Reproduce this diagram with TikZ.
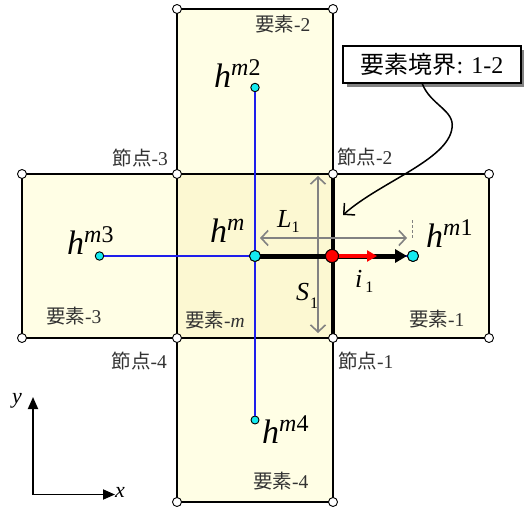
\documentclass[tikz,border=0pt]{standalone}
\usepackage{fontspec}
\setmainfont{Liberation Serif}
\newfontfamily\cjk{Noto Sans CJK JP}
\usetikzlibrary{arrows.meta,shadows}
\definecolor{outerfill}{RGB}{255,254,229}
\definecolor{innerfill}{RGB}{252,248,210}
\definecolor{labelgray}{RGB}{50,50,50}
\definecolor{dimgray}{RGB}{130,130,130}
\definecolor{dotcyan}{RGB}{20,235,240}
\definecolor{connblue}{RGB}{30,30,235}
\newcommand\jp[1]{{\cjk #1}}
\newcommand\hbig[1]{\fontsize{34}{36}\selectfont\textit{h}\raisebox{12pt}{\fontsize{24}{24}\selectfont #1}}
\begin{document}
\begin{tikzpicture}[x=1pt,y=-1pt,
  sq/.style={draw=black, line width=1.3pt, fill=outerfill, inner sep=0pt, minimum width=156pt, minimum height=164pt},
  corner/.style={circle, draw=black, line width=0.9pt, fill=white, minimum size=9pt, inner sep=0pt},
  cdot/.style={circle, draw=black, line width=0.9pt, fill=dotcyan, minimum size=#1, inner sep=0pt},
  rdot/.style={circle, draw=black, line width=0.9pt, fill=red, minimum size=13pt, inner sep=0pt},
  conn/.style={draw=connblue, line width=1.1pt},
  dimarrow/.style={draw=dimgray, line width=1.6pt, {Straight Barb[length=7pt,width=15pt,line width=1.6pt]}-{Straight Barb[length=7pt,width=15pt,line width=1.6pt]}},
  boundary/.style={draw=black, line width=4.5pt},
  flux/.style={draw=black, line width=5pt, -{Triangle[length=12pt,width=13pt]}},
  normal/.style={draw=red, line width=4pt, -{Triangle[length=10pt,width=11pt]}},
  nodelabel/.style={inner sep=0pt, text=labelgray, font=\fontsize{19.5}{22}\selectfont},
  hlabel/.style={inner sep=0pt, anchor=base west},
  mathlabel/.style={inner sep=0pt, anchor=base west, font=\fontsize{26}{28}\selectfont},
  axis/.style={draw=black, line width=1.8pt, -{Triangle[length=12pt,width=10pt]}},
  callout/.style={draw=black, line width=1.3pt, fill=white, minimum width=178pt, minimum height=37pt, inner sep=0pt,
    font=\fontsize{24}{26}\selectfont,
    drop shadow={shadow xshift=4pt, shadow yshift=-4pt, fill=dimgray, opacity=1}},
  callarrow/.style={draw=black, line width=1.5pt, -{Straight Barb[length=8pt,width=16pt,line width=1.5pt]}}
]
\useasboundingbox (0,0) rectangle (524,508);

% elements
\node[sq] (e2) at (255,91.5) [minimum height=165pt] {};
\node[sq] (e4) at (255,420) {};
\node[sq] (e3) at (99.5,256) [minimum width=155pt] {};
\node[sq] (e1) at (411,256) {};
\node[sq, fill=innerfill] (em) at (255,256) {};

% cell centres
\node[cdot=11pt] (hm) at (255,256) {};
\node[cdot=11pt] (hm1) at (413,256) {};
\node[cdot=8.5pt] (hm2) at (255,87.5) {};
\node[cdot=8.5pt] (hm3) at (99.5,256) {};
\node[cdot=8pt] (hm4) at (255,420) {};

% connections
\draw[conn] (hm2) -- (hm4);
\draw[conn] (hm3) -- (hm1);

% corners
\coordinate (p1) at (177,9);
\coordinate (p2) at (333,9);
\coordinate (p3) at (22,174);
\coordinate (n3) at (177,174);
\coordinate (n2) at (333,174);
\coordinate (p6) at (489,174);
\coordinate (p7) at (22,338);
\coordinate (n4) at (177,338);
\coordinate (n1) at (333,338);
\coordinate (p10) at (489,338);
\coordinate (p11) at (177,502);
\coordinate (p12) at (333,502);

% boundary 1-2
\draw[boundary] (n2) -- (n1);

% dimensions
\coordinate (sa) at (318,176);
\coordinate (sb) at (318,333);
\coordinate (la) at (260,238);
\coordinate (lb) at (407,238);
\coordinate (da) at (412,220);
\draw[dimarrow] (sa) -- (sb);
\draw[dimarrow] (la) -- (lb);
\draw[draw=dimgray, line width=0.9pt, dashed, dash pattern=on 3pt off 2pt] (da) -- (da |- lb);

% flux arrows
\node[rdot] (rp) at (332,256) {};
\draw[flux] (hm.center) -- (hm1.west);
\draw[normal] (rp.center) -- (377,256);
\node[rdot] at (rp) {};
\node[cdot=11pt] at (hm) {};
\node[cdot=11pt] at (hm1) {};

% corner circles
\foreach \c in {p1,p2,p3,n3,n2,p6,p7,n4,n1,p10,p11,p12}
  \node[corner] at (\c) {};

% labels
\node[hlabel] (lhm) at (210,242) {\hbig{\textit{m}}};
\node[hlabel] (lhm1) at (426,247) {\hbig{\textit{m}1}};
\node[hlabel] (lhm2) at (214,87.5) {\hbig{\textit{m}2}};
\node[hlabel] (lhm3) at (67,254) {\hbig{\textit{m}3}};
\node[hlabel] (lhm4) at (262,443.5) {\hbig{\textit{m}4}};

\node[mathlabel] (lL) at (277,227.5) {\textit{L}\raisebox{-5pt}{\fontsize{16}{16}\selectfont 1}};
\node[mathlabel] (lS) at (296,300) {\textit{S}\kern1pt\raisebox{-8pt}{\fontsize{16}{16}\selectfont 1}};
\node[mathlabel] (li) at (355,287) {\textit{i}\kern3pt\raisebox{-5pt}{\fontsize{16}{16}\selectfont 1}};

\node[nodelabel, anchor=base west] (t1) at (338,368.5) {\jp{節点}-1};
\node[nodelabel, anchor=base west] (t2) at (337,164) {\jp{節点}-2};
\node[nodelabel, anchor=base east] (t3) at (168,165) {\jp{節点}-3};
\node[nodelabel, anchor=base east] (t4) at (167,368.5) {\jp{節点}-4};

\node[nodelabel, anchor=base west] (k1) at (409,326) {\jp{要素}-1};
\node[nodelabel, anchor=base west] (k2) at (255,32) {\jp{要素}-2};
\node[nodelabel, anchor=base west] (k3) at (46,323) {\jp{要素}-3};
\node[nodelabel, anchor=base west] (k4) at (253,488.5) {\jp{要素}-4};
\node[nodelabel, anchor=base west] (km) at (185,327.5) {\jp{要素}-\textit{m}};

% callout
\node[callout] (co) at (432,64.5) {\jp{要素境界}: 1-2};
\coordinate (cs) at (422,83);
\coordinate (ce) at (343,215);
\draw[callarrow] (cs) .. controls (430,105) and (455,110) .. (452,128)
  .. controls (448,160) and (380,182) .. (ce);

% axes
\coordinate (o) at (33,494.5);
\coordinate (ax) at (115,494.5);
\coordinate (ay) at (33,397);
\draw[axis] (o) -- (ax);
\draw[axis] (o.center) -- (ay);
\node[inner sep=0pt, anchor=base west, font=\fontsize{22}{24}\selectfont] (lx) at (115,497) {\textit{x}};
\node[inner sep=0pt, anchor=base west, font=\fontsize{22}{24}\selectfont] (ly) at (12,403) {\textit{y}};
\end{tikzpicture}
\end{document}
